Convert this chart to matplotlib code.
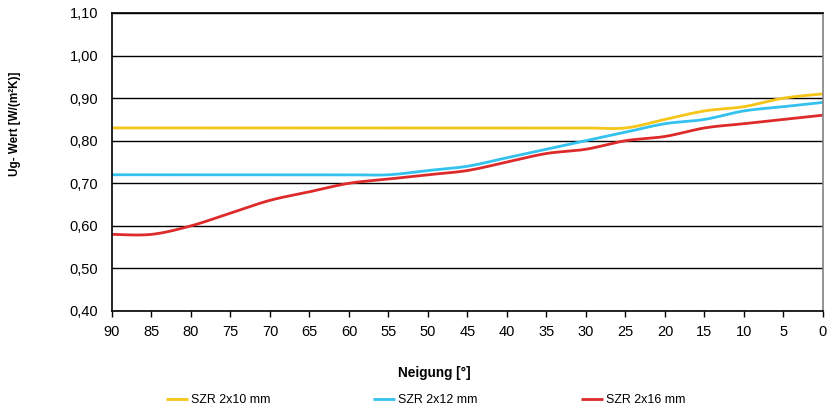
import matplotlib
matplotlib.use("Agg")
import matplotlib.pyplot as plt
import numpy as np
from matplotlib.ticker import FuncFormatter, MultipleLocator

plt.rcParams['font.family'] = ['Liberation Sans', 'DejaVu Sans']

# Neigung in Grad
neigung = [90, 85, 80, 75, 70, 65, 60, 55, 50, 45, 40, 35, 30, 25, 20, 15, 10, 5, 0]

szr_2x10 = [0.83, 0.83, 0.83, 0.83, 0.83, 0.83, 0.83, 0.83, 0.83, 0.83,
            0.83, 0.83, 0.83, 0.83, 0.85, 0.87, 0.88, 0.90, 0.91]
szr_2x12 = [0.72, 0.72, 0.72, 0.72, 0.72, 0.72, 0.72, 0.72, 0.73, 0.74,
            0.76, 0.78, 0.80, 0.82, 0.84, 0.85, 0.87, 0.88, 0.89]
szr_2x16 = [0.58, 0.58, 0.60, 0.63, 0.66, 0.68, 0.70, 0.71, 0.72, 0.73,
            0.75, 0.77, 0.78, 0.80, 0.81, 0.83, 0.84, 0.85, 0.86]

labels = ["SZR 2x10 mm", "SZR 2x12 mm", "SZR 2x16 mm"]
colors = ["#F5C518", "#33C1EE", "#DD2A2A"]


def smooth(x, y, n=20):
    """Catmull-Rom Glättung wie bei Excel-Linien"""
    x = np.asarray(x, float)
    y = np.asarray(y, float)
    p = np.column_stack([x, y])
    p = np.vstack([p[0], p, p[-1]])
    out = []
    t = np.linspace(0, 1, n, endpoint=False)[:, None]
    for i in range(1, len(p) - 2):
        p0, p1, p2, p3 = p[i - 1], p[i], p[i + 1], p[i + 2]
        seg = 0.5 * ((2 * p1) + (-p0 + p2) * t
                     + (2 * p0 - 5 * p1 + 4 * p2 - p3) * t ** 2
                     + (-p0 + 3 * p1 - 3 * p2 + p3) * t ** 3)
        out.append(seg)
    out.append(p[-2][None, :])
    out = np.vstack(out)
    return out[:, 0], out[:, 1]


fig = plt.figure(figsize=(8.29, 4.08), dpi=100)
ax = fig.add_axes([112 / 829, 1 - 311 / 408, (823 - 112) / 829, (311 - 13) / 408])

for ys, lab, c in zip([szr_2x10, szr_2x12, szr_2x16], labels, colors):
    sx, sy = smooth(neigung, ys)
    ax.plot(sx, sy, color=c, lw=2, label=lab, solid_capstyle='butt')

ax.set_xlim(90, 0)
ax.set_ylim(0.40, 1.10)
ax.xaxis.set_major_locator(MultipleLocator(5))
ax.yaxis.set_major_locator(MultipleLocator(0.1))
ax.yaxis.set_major_formatter(FuncFormatter(lambda v, p: f"{v:.2f}".replace('.', ',')))

ax.grid(axis='y', color='black', lw=1)
ax.set_axisbelow(True)
ax.tick_params(axis='x', direction='out', length=4, width=1, labelsize=10.5, pad=6)
ax.tick_params(axis='y', length=0, labelsize=10.5, pad=10)
for s in ['left', 'bottom', 'top']:
    ax.spines[s].set_color('black')
    ax.spines[s].set_linewidth(1.2)
ax.spines['right'].set_color('#808080')
ax.spines['right'].set_linewidth(1.2)

ax.set_xlabel("Neigung [°]", fontsize=9.8, fontweight='bold')
ax.xaxis.set_label_coords((434 - 112) / 711, -(366 - 311) / 298)
ax.set_ylabel("Ug- Wert [W/(m²K)]", fontsize=8.4, fontweight='bold')
ax.yaxis.set_label_coords(-(112 - 21) / 711, (311 - 124) / 298)

fig.legend(loc='center', bbox_to_anchor=(425.5 / 829, 1 - 400 / 408), ncol=3, frameon=False,
           fontsize=8.9, handlelength=1.8, handletextpad=0.25, columnspacing=8.3)

fig.savefig("out.png", dpi=100)
